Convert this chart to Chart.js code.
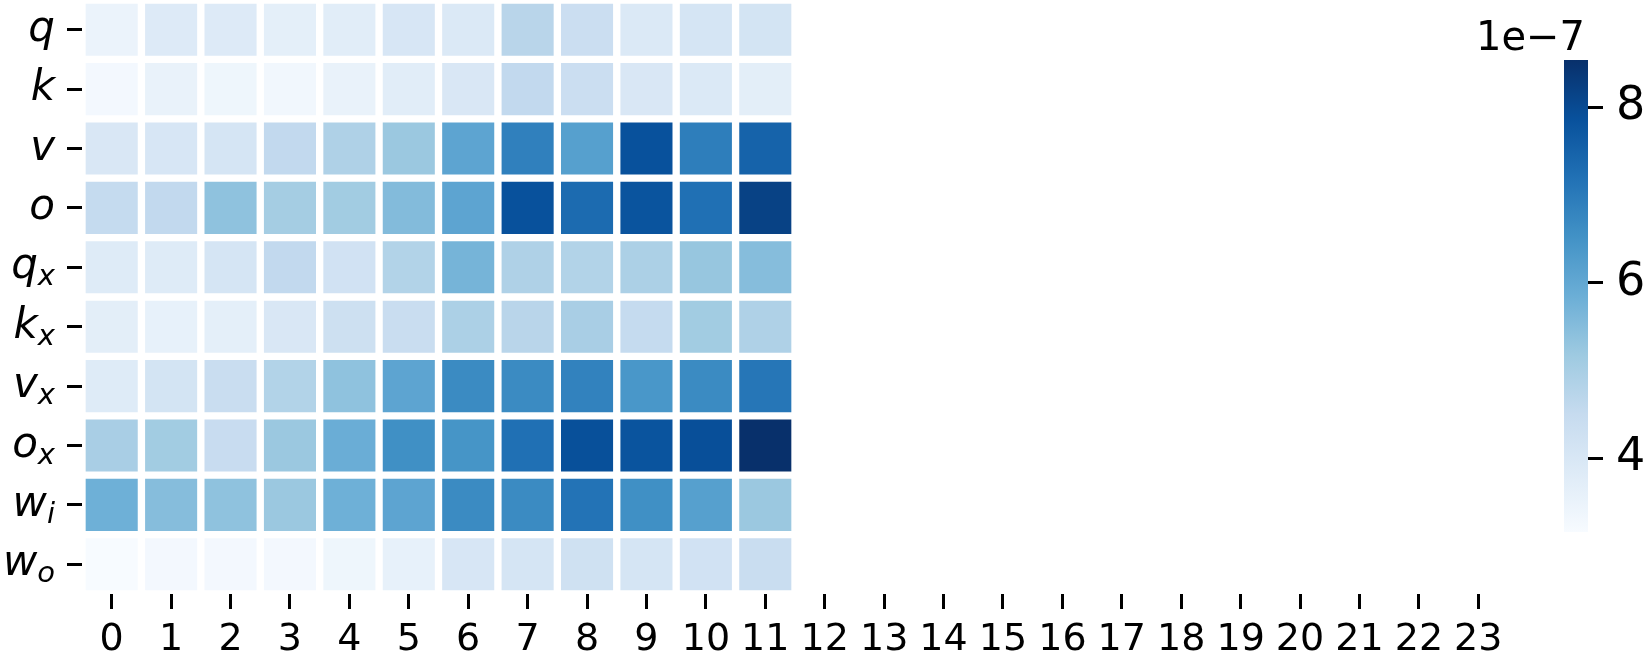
<!DOCTYPE html>
<html>
<head>
<meta charset="utf-8">
<script src="https://cdn.jsdelivr.net/npm/chart.js@4.4.0/dist/chart.umd.min.js"></script>
<style>
    html, body { margin: 0; padding: 0; background: #fff; }
    body { width: 1643px; height: 662px; position: relative; overflow: hidden; }
    #heat { position: absolute; left: 0; top: 0; }
    #cbar { position: absolute; left: 1470px; top: 0; }
</style>
</head>
<body>
<canvas id="heat" width="1508" height="662"></canvas>
<canvas id="cbar" width="173" height="662"></canvas>
<script>
// values are in units of 1e-7 (see colorbar offset label)
const colLabels = ['0', '1', '2', '3', '4', '5', '6', '7', '8', '9', '10', '11',
                   '12', '13', '14', '15', '16', '17', '18', '19', '20', '21', '22', '23'];
// "_" marks a subscript
const rowLabels = ['q', 'k', 'v', 'o', 'q_x', 'k_x', 'v_x', 'o_x', 'w_i', 'w_o'];

const q  = [3.49, 3.87, 3.87, 3.66, 3.76, 4.03, 3.92, 4.73, 4.36, 3.92, 4.09, 4.14];
const k  = [3.28, 3.55, 3.39, 3.33, 3.55, 3.76, 3.98, 4.57, 4.36, 3.98, 3.92, 3.71];
const v  = [3.98, 4.03, 4.09, 4.57, 4.89, 5.22, 6.08, 6.89, 6.19, 7.86, 6.94, 7.48];
const o  = [4.52, 4.57, 5.38, 5.06, 5.11, 5.54, 6.08, 7.86, 7.32, 7.81, 7.21, 8.18];
const qx = [3.82, 3.82, 4.09, 4.57, 4.19, 4.84, 5.70, 4.89, 4.84, 4.95, 5.27, 5.49];
const kx = [3.71, 3.60, 3.66, 3.98, 4.30, 4.41, 4.95, 4.73, 5.00, 4.52, 5.11, 4.89];
const vx = [3.82, 4.14, 4.41, 4.84, 5.38, 6.08, 6.67, 6.67, 6.84, 6.40, 6.67, 7.10];
const ox = [5.00, 5.11, 4.46, 5.22, 5.87, 6.57, 6.46, 7.21, 7.89, 7.81, 7.91, 8.54];
const wi = [5.81, 5.49, 5.38, 5.22, 5.81, 6.08, 6.67, 6.67, 7.16, 6.57, 6.19, 5.22];
const wo = [3.16, 3.28, 3.28, 3.28, 3.39, 3.60, 4.03, 4.09, 4.25, 4.09, 4.19, 4.41];

const rows = [q, k, v, o, qx, kx, vx, ox, wi, wo];
const cbarTicks = [4, 6, 8];

// matplotlib "Blues" colormap stops
const blues = [
    [247, 251, 255], [222, 235, 247], [198, 219, 239], [158, 202, 225], [107, 174, 214],
    [66, 146, 198], [33, 113, 181], [8, 81, 156], [8, 48, 107]
];

const allValues = rows.flat();
const vmin = Math.min(...allValues);
const vmax = Math.max(...allValues);

function bluesColor(val) {
    let t = (val - vmin) / (vmax - vmin);
    t = Math.max(0, Math.min(1, t)) * (blues.length - 1);
    const i = Math.min(Math.floor(t), blues.length - 2);
    const f = t - i;
    const c = blues[i].map((a, j) => Math.round(a + (blues[i + 1][j] - a) * f));
    return `rgb(${c[0]}, ${c[1]}, ${c[2]})`;
}

const tickGrid = { offset: false, drawOnChartArea: false, tickLength: 15, tickWidth: 3, tickColor: '#000' };

// y labels are math-style: italic letter with a smaller, lowered subscript
const mathLabels = {
    id: 'mathLabels',
    afterDraw(chart) {
        const { ctx } = chart;
        const y = chart.scales.y;
        const right = y.right - 15 - 12;
        ctx.save();
        ctx.fillStyle = '#000';
        ctx.textAlign = 'right';
        ctx.textBaseline = 'alphabetic';
        rowLabels.forEach((lab, i) => {
            const [base, sub] = lab.split('_');
            const baseY = y.getPixelForValue(i) + 11;
            let x = right;
            if (sub) {
                ctx.font = 'italic 29px "DejaVu Sans"';
                ctx.fillText(sub, x, baseY + 7);
                x -= ctx.measureText(sub).width;
            }
            ctx.font = 'italic 42px "DejaVu Sans"';
            ctx.fillText(base, x, baseY);
        });
        ctx.restore();
    }
};

// --- HEATMAP ---
new Chart(document.getElementById('heat'), {
    type: 'bar',
    data: {
        labels: colLabels,
        datasets: rows.map((vals, r) => ({
            label: rowLabels[r],
            data: vals.map(() => [r - 0.5, r + 0.5]),
            backgroundColor: vals.map(bluesColor),
            borderColor: '#ffffff',
            borderWidth: 4,
            borderSkipped: false,
            grouped: false,
            barPercentage: 1,
            categoryPercentage: 1
        }))
    },
    options: {
        responsive: false,
        animation: false,
        layout: { padding: 0 },
        plugins: { legend: { display: false }, tooltip: { enabled: false } },
        scales: {
            x: {
                grid: tickGrid,
                border: { display: false },
                ticks: { color: '#000', font: { family: 'DejaVu Sans', size: 38 }, padding: 8, maxRotation: 0, autoSkip: false },
                afterFit: s => { s.height = 68; s.paddingLeft = 0; s.paddingRight = 0; }
            },
            y: {
                type: 'linear',
                min: -0.5,
                max: 9.5,
                reverse: true,
                afterBuildTicks: s => { s.ticks = rowLabels.map((_, i) => ({ value: i })); },
                grid: tickGrid,
                border: { display: false },
                ticks: { display: false },
                afterFit: s => { s.width = 82; s.paddingTop = 0; s.paddingBottom = 0; }
            }
        }
    },
    plugins: [mathLabels]
});

// --- COLORBAR ---
const offsetLabel = {
    id: 'offsetLabel',
    afterDraw(chart) {
        const { ctx, chartArea } = chart;
        ctx.save();
        ctx.font = '40px "DejaVu Sans"';
        ctx.fillStyle = '#000';
        ctx.textAlign = 'right';
        ctx.textBaseline = 'alphabetic';
        ctx.fillText('1e\u22127', chartArea.right - 3, chartArea.top - 10);
        ctx.restore();
    }
};

new Chart(document.getElementById('cbar'), {
    type: 'bar',
    data: {
        labels: [''],
        datasets: [{
            data: [[vmin, vmax]],
            backgroundColor: c => {
                const ch = c.chart;
                if (!ch.chartArea) return bluesColor(vmin);
                const y = ch.scales.y;
                const g = ch.ctx.createLinearGradient(0, y.getPixelForValue(vmin), 0, y.getPixelForValue(vmax));
                blues.forEach((rgb, i) => g.addColorStop(i / (blues.length - 1), `rgb(${rgb.join(',')})`));
                return g;
            },
            borderWidth: 0,
            barPercentage: 1,
            categoryPercentage: 1
        }]
    },
    options: {
        responsive: false,
        animation: false,
        layout: { padding: { left: 94, top: 60, bottom: 130, right: 0 } },
        plugins: { legend: { display: false }, tooltip: { enabled: false } },
        scales: {
            x: { display: false },
            y: {
                position: 'right',
                min: vmin,
                max: vmax,
                afterBuildTicks: s => { s.ticks = cbarTicks.map(val => ({ value: val })); },
                grid: tickGrid,
                border: { display: false },
                ticks: { color: '#000', font: { family: 'DejaVu Sans', size: 46 }, padding: 13 },
                afterFit: s => { s.width = 55; s.paddingTop = 0; s.paddingBottom = 0; }
            }
        }
    },
    plugins: [offsetLabel]
});
</script>
</body>
</html>
